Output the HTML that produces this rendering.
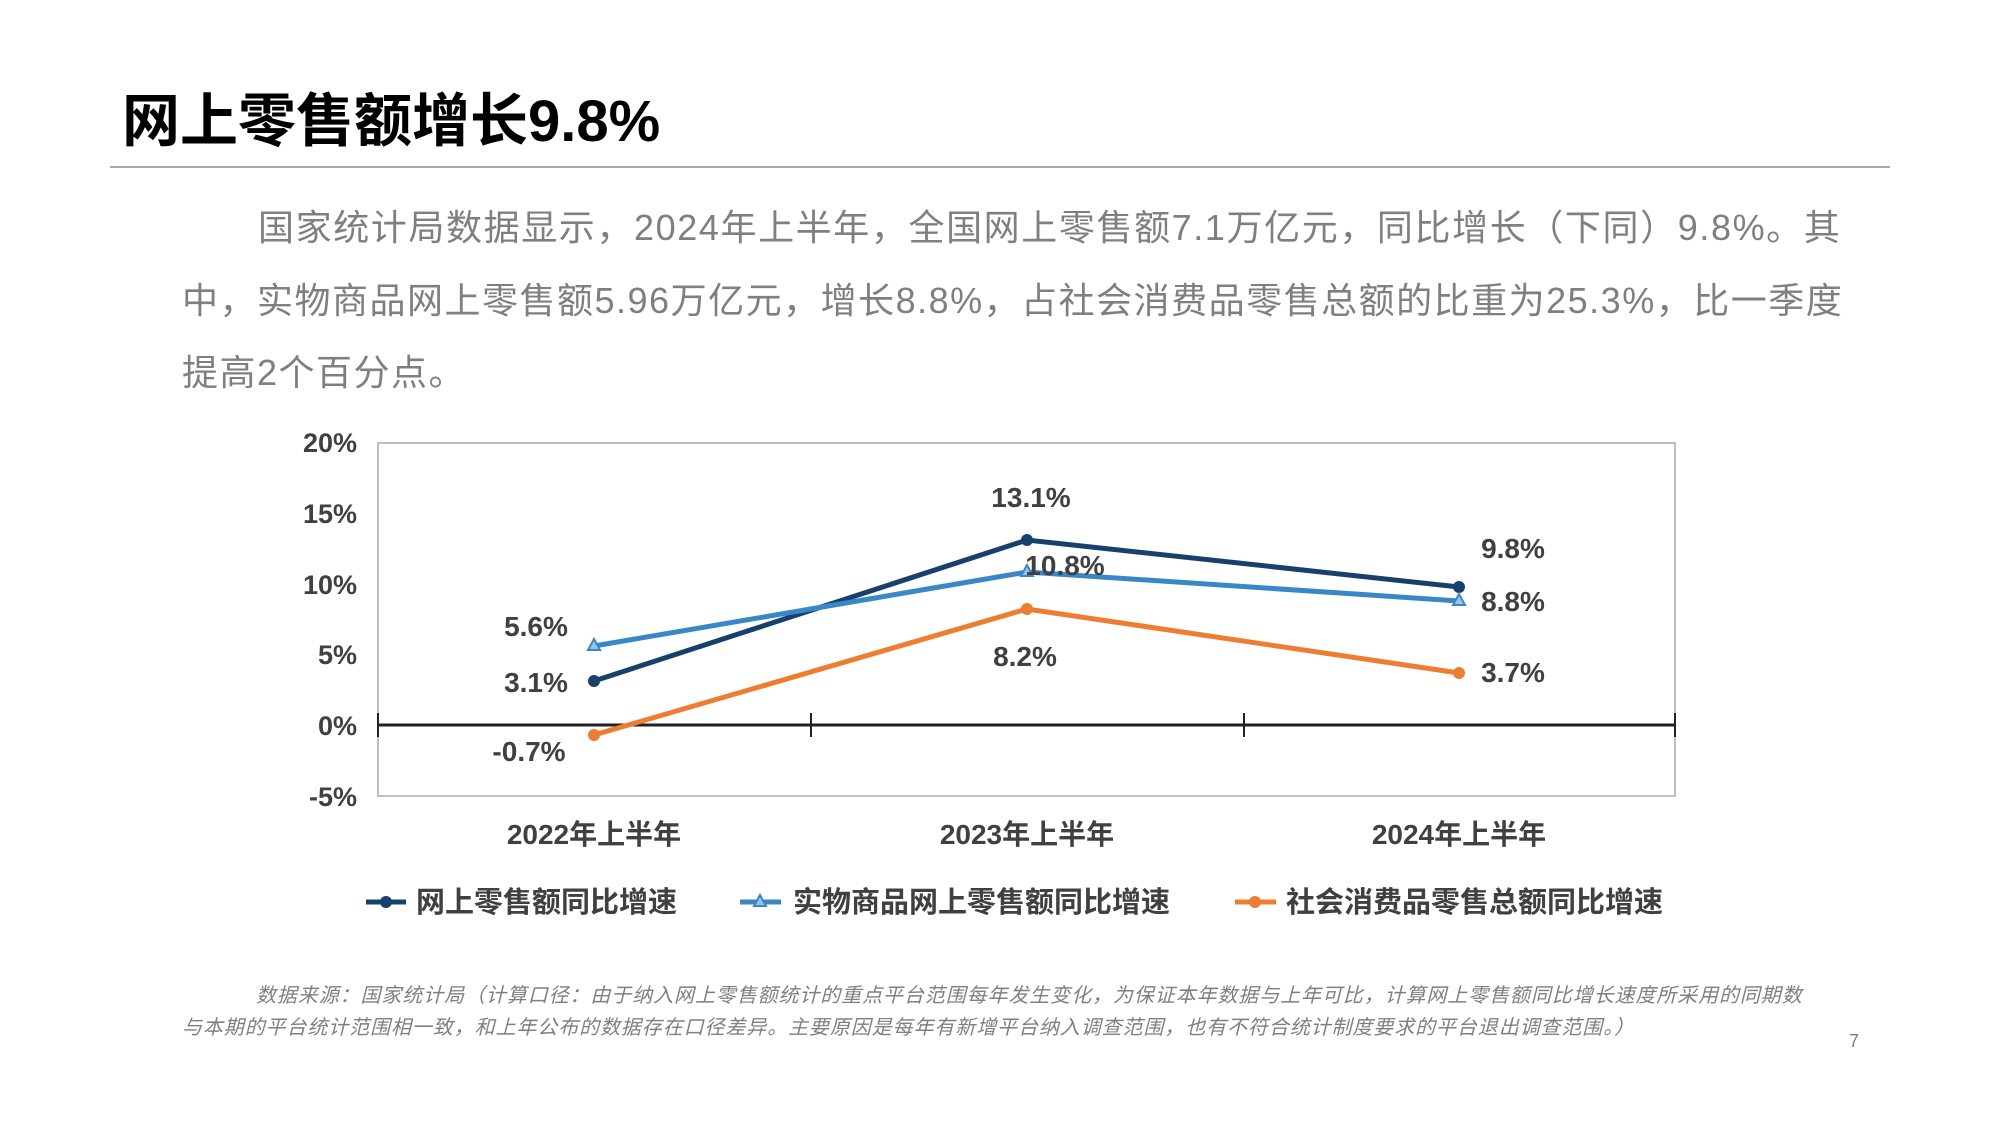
<!DOCTYPE html>
<html><head><meta charset="utf-8"><style>
body{margin:0;width:2000px;height:1125px;background:#fff;overflow:hidden;position:relative;font-family:"Liberation Sans","Noto Sans CJK SC",sans-serif}
.t{position:absolute;white-space:nowrap}
</style></head><body>
<div class="t" style="left:122px;top:74px;font-size:58px;font-weight:bold;color:#000">网上零售额增长9.8%</div>
<div style="position:absolute;left:110px;top:166px;width:1780px;height:2px;background:#a6a6a6"></div>
<div class="t" style="left:258px;top:199px;font-size:36px;color:#7f7f7f;letter-spacing:1.6px">国家统计局数据显示，2024年上半年，全国网上零售额7.1万亿元，同比增长（下同）9.8%。其</div>
<div class="t" style="left:182px;top:272px;font-size:36px;color:#7f7f7f;letter-spacing:1.5px">中，实物商品网上零售额5.96万亿元，增长8.8%，占社会消费品零售总额的比重为25.3%，比一季度</div>
<div class="t" style="left:182px;top:344px;font-size:36px;color:#7f7f7f;letter-spacing:1.5px">提高2个百分点。</div>
<svg width="2000" height="1125" style="position:absolute;left:0;top:0" font-family="Liberation Sans, Noto Sans CJK SC, sans-serif">
<rect x="378" y="443" width="1297" height="353" fill="none" stroke="#bfbfbf" stroke-width="2"/>
<line x1="378" y1="725" x2="1675" y2="725" stroke="#222" stroke-width="3"/>
<g stroke="#222" stroke-width="2"><line x1="378" y1="713" x2="378" y2="737"/><line x1="811" y1="713" x2="811" y2="737"/><line x1="1244" y1="713" x2="1244" y2="737"/><line x1="1675" y1="713" x2="1675" y2="737"/></g>
<g font-size="27" font-weight="bold" fill="#404040" text-anchor="end">
<text x="357" y="452">20%</text><text x="357" y="523">15%</text><text x="357" y="594">10%</text><text x="357" y="664">5%</text><text x="357" y="735">0%</text><text x="357" y="806">-5%</text></g>
<g font-size="28" font-weight="bold" fill="#404040" text-anchor="middle">
<text x="594" y="844">2022年上半年</text><text x="1027" y="844">2023年上半年</text><text x="1459" y="844">2024年上半年</text></g>
<polyline points="594,681 1027,540 1459,587" fill="none" stroke="#17406d" stroke-width="5"/>
<polyline points="594,646 1027,572 1459,601" fill="none" stroke="#3a87c8" stroke-width="5"/>
<polyline points="594,735 1027,609 1459,673" fill="none" stroke="#ed7d31" stroke-width="5"/>
<g fill="#17406d"><circle cx="594" cy="681" r="6"/><circle cx="1027" cy="540" r="6"/><circle cx="1459" cy="587" r="6"/></g>
<g fill="#9cc3e6" stroke="#3a87c8" stroke-width="2"><polygon points="594,639 600,650 588,650"/><polygon points="1027,565 1033,576 1021,576"/><polygon points="1459,594 1465,605 1453,605"/></g>
<g fill="#ed7d31"><circle cx="594" cy="735" r="6"/><circle cx="1027" cy="609" r="6"/><circle cx="1459" cy="673" r="6"/></g>
<g font-size="28" font-weight="bold" fill="#404040" text-anchor="middle">
<text x="1031" y="507">13.1%</text><text x="1065" y="575">10.8%</text><text x="1513" y="558">9.8%</text><text x="1513" y="611">8.8%</text>
<text x="536" y="636">5.6%</text><text x="536" y="692">3.1%</text><text x="1025" y="666">8.2%</text><text x="1513" y="682">3.7%</text><text x="529" y="761">-0.7%</text></g>
<line x1="366" y1="902" x2="406" y2="902" stroke="#17406d" stroke-width="5"/><circle cx="386" cy="902" r="6" fill="#17406d"/>
<line x1="740" y1="902" x2="781" y2="902" stroke="#3a87c8" stroke-width="5"/><polygon points="760,895 766,906 754,906" fill="#9cc3e6" stroke="#3a87c8" stroke-width="2"/>
<line x1="1235" y1="902" x2="1276" y2="902" stroke="#ed7d31" stroke-width="5"/><circle cx="1255" cy="902" r="6" fill="#ed7d31"/>
<g font-size="29" font-weight="bold" fill="#404040">
<text x="416" y="912">网上零售额同比增速</text><text x="793" y="912">实物商品网上零售额同比增速</text><text x="1286" y="912">社会消费品零售总额同比增速</text></g>
</svg>
<div class="t" style="left:256px;top:979px;font-size:20px;font-style:italic;color:#7f7f7f;letter-spacing:0.9px">数据来源：国家统计局（计算口径：由于纳入网上零售额统计的重点平台范围每年发生变化，为保证本年数据与上年可比，计算网上零售额同比增长速度所采用的同期数</div>
<div class="t" style="left:182px;top:1011px;font-size:20px;font-style:italic;color:#7f7f7f;letter-spacing:0.9px">与本期的平台统计范围相一致，和上年公布的数据存在口径差异。主要原因是每年有新增平台纳入调查范围，也有不符合统计制度要求的平台退出调查范围。）</div>
<div class="t" style="left:1849px;top:1031px;font-size:18px;color:#7f7f7f">7</div>
</body></html>
